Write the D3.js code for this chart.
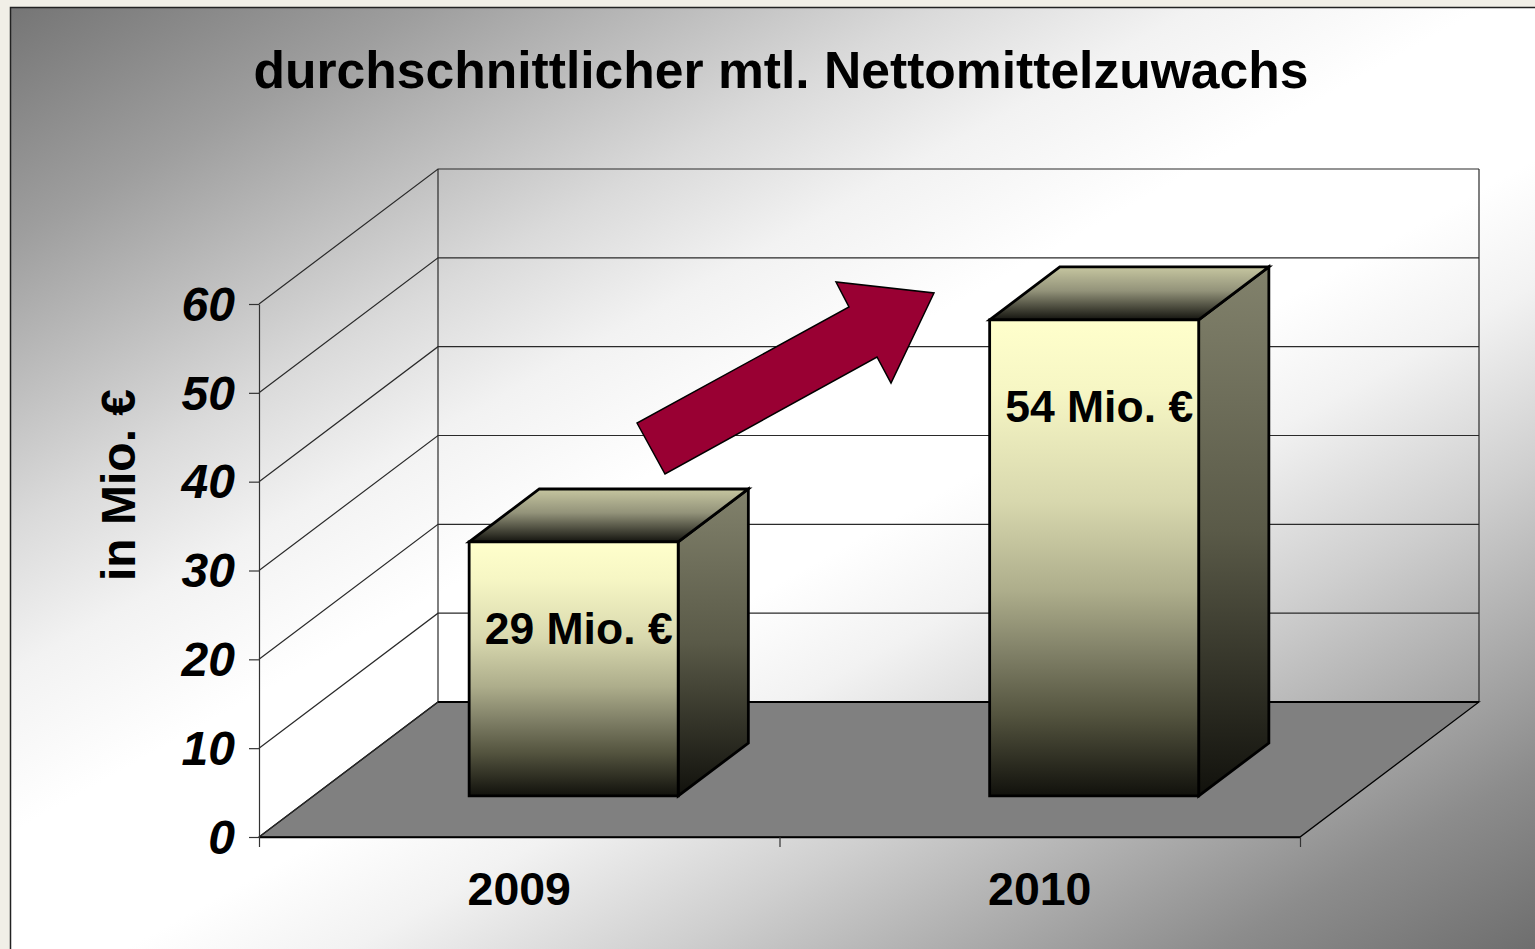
<!DOCTYPE html>
<html>
<head>
<meta charset="utf-8">
<script src="https://cdn.jsdelivr.net/npm/d3@7"></script>
<style>
  html, body { margin: 0; padding: 0; background: #f1efe7; overflow: hidden; }
  svg { display: block; }
  text { font-family: "Liberation Sans", Arial, sans-serif; font-weight: bold; fill: #000; }
</style>
</head>
<body>
<svg id="chart"></svg>
<script>
// chart values
const CATEGORIES = ["2009", "2010"];
const VALUES = [28.6, 53.6];
const VALUE_LABELS = ["29 Mio. €", "54 Mio. €"];
const Y_TICKS = [0, 10, 20, 30, 40, 50, 60];
const TITLE = "durchschnittlicher mtl. Nettomittelzuwachs";
const Y_TITLE = "in Mio. €";

const TOTAL_WIDTH = 1535;
const TOTAL_HEIGHT = 949;

// front plane of the 3d box, and how far the back wall is shifted from it
const FRONT_LEFT = 259;
const FRONT_RIGHT = 1300;
const FRONT_BOTTOM = 837;
const FRONT_TOP = 304;
const DEPTH_X = 179;
const DEPTH_Y = -135;

// bars sit in the middle of the floor depth
const BAR_DEPTH_START = 0.304;
const BAR_DEPTH_END = 0.696;

// the arrow is a drawn annotation, not data
const ARROW_POINTS = [[637, 423], [665, 474], [877, 357], [891, 383], [934, 293], [836, 282], [849, 307]];

const svg = d3.select("#chart").attr("width", TOTAL_WIDTH).attr("height", TOTAL_HEIGHT);
const defs = svg.append("defs");

function addGradient(id, attrs, stops) {
  const g = defs.append("linearGradient").attr("id", id);
  Object.entries(attrs).forEach(([k, v]) => g.attr(k, v));
  stops.forEach(([offset, color]) => g.append("stop").attr("offset", offset).attr("stop-color", color));
}

// white band is wide and not centred, so the vector is set in page coordinates
addGradient("bgGrad", { gradientUnits: "userSpaceOnUse", x1: 10, y1: 7, x2: 776, y2: 1375 }, [
  [0, "#757575"], [0.13, "#9e9e9e"], [0.29, "#dadada"], [0.37, "#f2f2f2"], [0.46, "#ffffff"],
  [0.56, "#ffffff"], [0.63, "#f2f2f2"], [0.73, "#cfcfcf"], [0.9, "#8c8c8c"], [1, "#6e6e6e"],
]);
addGradient("frontGrad", { x1: 0, y1: 0, x2: 0, y2: 1 }, [
  [0, "#ffffcc"], [0.15, "#f6f6c4"], [0.38, "#d8d8ae"], [0.57, "#adad8b"],
  [0.7, "#808067"], [0.83, "#54543f"], [1, "#11110c"],
]);
addGradient("sideGrad", { x1: 0, y1: 0, x2: 0, y2: 1 }, [[0, "#82826c"], [0.5, "#5a5a48"], [1, "#11110c"]]);
addGradient("topGrad", { x1: 0, y1: 0, x2: 0, y2: 1 }, [[0, "#c6c6a0"], [0.45, "#93937a"], [1, "#14140f"]]);

// background panel, runs off the right and bottom of the page
svg.append("rect")
  .attr("x", 10.5).attr("y", 7.5)
  .attr("width", TOTAL_WIDTH + 20).attr("height", TOTAL_HEIGHT + 20)
  .attr("fill", "url(#bgGrad)")
  .attr("stroke", "#222").attr("stroke-width", 1.5);

const x = d3.scaleBand().domain(CATEGORIES).range([FRONT_LEFT, FRONT_RIGHT]);
const xEdges = d3.scaleLinear().domain([0, CATEGORIES.length]).range([FRONT_LEFT, FRONT_RIGHT]);
const y = d3.scaleLinear().domain([0, 60]).range([FRONT_BOTTOM, FRONT_TOP]);
const barWidth = x.bandwidth() / 2.49;

// project a (px, value, depth 0..1) position on to the page
const project = (px, value, depth) => [px + DEPTH_X * depth, y(value) + DEPTH_Y * depth];
const polyPath = (pts) => d3.line()(pts) + "Z";

// floor
svg.append("path")
  .attr("d", polyPath([
    project(FRONT_LEFT, 0, 0), project(FRONT_RIGHT, 0, 0),
    project(FRONT_RIGHT, 0, 1), project(FRONT_LEFT, 0, 1),
  ]))
  .attr("fill", "#808080")
  .attr("stroke", "#000").attr("stroke-width", 1.3);

// walls and grid lines
const grid = svg.append("g").attr("fill", "none").attr("stroke", "#2a2a2a").attr("stroke-width", 1.2);

grid.selectAll(".grid-line")
  .data(Y_TICKS)
  .join("path")
  .classed("grid-line", true)
  .attr("d", (d) => d3.line()([project(FRONT_LEFT, d, 0), project(FRONT_LEFT, d, 1), project(FRONT_RIGHT, d, 1)]));

grid.append("path")
  .attr("d", d3.line()([project(FRONT_LEFT, 0, 1), project(FRONT_LEFT, 60, 1)]));
grid.append("path")
  .attr("d", d3.line()([project(FRONT_RIGHT, 0, 1), project(FRONT_RIGHT, 60, 1)]));

// back edge of the floor is heavier than the wall grid
svg.append("path")
  .attr("d", d3.line()([project(FRONT_LEFT, 0, 1), project(FRONT_RIGHT, 0, 1)]))
  .attr("stroke", "#000").attr("stroke-width", 1.8);

// axes
const yAxis = d3.axisLeft(y).tickValues(Y_TICKS).tickSize(10).tickSizeOuter(0).tickPadding(14);
const yAxisG = svg.append("g").attr("transform", `translate(${FRONT_LEFT},0)`).call(yAxis);
yAxisG.selectAll("text").attr("font-size", 48).style("font-style", "italic").attr("dy", "0.34em");
yAxisG.selectAll("line,path").attr("stroke", "#333").attr("stroke-width", 1.2);

const xTicksAxis = d3.axisBottom(xEdges).ticks(CATEGORIES.length).tickSize(10).tickSizeOuter(0).tickFormat("");
const xTicksG = svg.append("g").attr("transform", `translate(0,${FRONT_BOTTOM})`).call(xTicksAxis);
xTicksG.selectAll("line").attr("stroke", "#333").attr("stroke-width", 1.2);
xTicksG.select("path").attr("stroke", "#000").attr("stroke-width", 1.3);

const xAxis = d3.axisBottom(x).tickSize(0).tickPadding(35);
const xAxisG = svg.append("g").attr("transform", `translate(0,${FRONT_BOTTOM})`).call(xAxis);
xAxisG.select("path").remove();
xAxisG.selectAll("text").attr("font-size", 46.5).attr("dy", "0.71em");

// bars
const bars = svg.selectAll(".bar")
  .data(CATEGORIES.map((c, i) => ({ category: c, value: VALUES[i], label: VALUE_LABELS[i] })))
  .join("g")
  .classed("bar", true)
  .attr("stroke", "#000").attr("stroke-width", 2.8).attr("stroke-linejoin", "miter");

// left/right edge of a bar; x positions of the front face get shifted by the start depth in project()
const barLeft = (d) => x(d.category) + (x.bandwidth() - barWidth) / 2;
const barRight = (d) => barLeft(d) + barWidth;

bars.append("path")
  .attr("fill", "url(#sideGrad)")
  .attr("d", (d) => polyPath([
    project(barRight(d), d.value, BAR_DEPTH_START), project(barRight(d), d.value, BAR_DEPTH_END),
    project(barRight(d), 0, BAR_DEPTH_END), project(barRight(d), 0, BAR_DEPTH_START),
  ]));

bars.append("path")
  .attr("fill", "url(#topGrad)")
  .attr("d", (d) => polyPath([
    project(barLeft(d), d.value, BAR_DEPTH_START), project(barLeft(d), d.value, BAR_DEPTH_END),
    project(barRight(d), d.value, BAR_DEPTH_END), project(barRight(d), d.value, BAR_DEPTH_START),
  ]));

bars.append("path")
  .attr("fill", "url(#frontGrad)")
  .attr("d", (d) => polyPath([
    project(barLeft(d), d.value, BAR_DEPTH_START), project(barRight(d), d.value, BAR_DEPTH_START),
    project(barRight(d), 0, BAR_DEPTH_START), project(barLeft(d), 0, BAR_DEPTH_START),
  ]));

// value labels sit a fixed distance under the top edge of the front face
bars.append("text")
  .attr("stroke", "none")
  .attr("text-anchor", "middle")
  .attr("font-size", 44.5)
  .attr("x", (d) => project(barLeft(d) + barWidth / 2, d.value, BAR_DEPTH_START)[0] + 5)
  .attr("y", (d) => project(0, d.value, BAR_DEPTH_START)[1] + 102)
  .text((d) => d.label);

// arrow
svg.append("path")
  .attr("d", polyPath(ARROW_POINTS))
  .attr("fill", "#990033")
  .attr("stroke", "#000").attr("stroke-width", 1.5);

// title
svg.append("text")
  .attr("x", 781).attr("y", 88)
  .attr("text-anchor", "middle")
  .attr("font-size", 51.6)
  .text(TITLE);

// y axis title
svg.append("text")
  .attr("transform", "translate(135,485) rotate(-90)")
  .attr("text-anchor", "middle")
  .attr("font-size", 48)
  .text(Y_TITLE);
</script>
</body>
</html>
